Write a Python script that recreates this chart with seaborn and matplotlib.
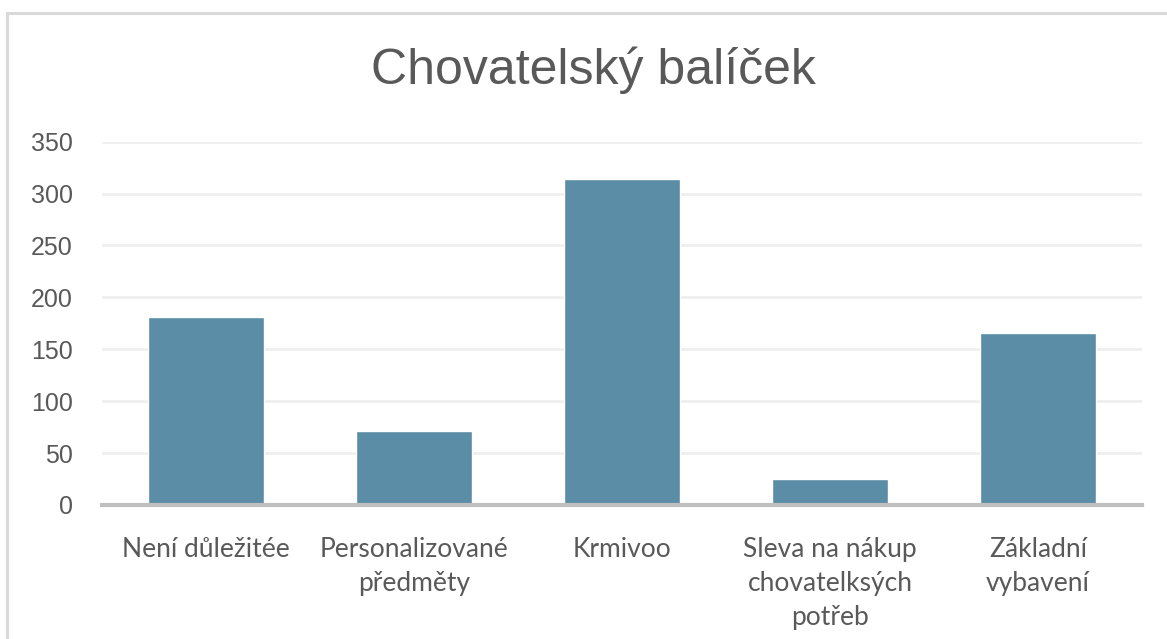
import matplotlib
matplotlib.use("Agg")
import matplotlib.pyplot as plt
from matplotlib.patches import Rectangle
import seaborn as sns
import pandas as pd

categories = [
    "Není důležitée",
    "Personalizované\npředměty",
    "Krmivoo",
    "Sleva na nákup\nchovatelksých\npotřeb",
    "Základní\nvybavení",
]
counts = [181, 71, 314, 25, 166]
y_ticks = [0, 50, 100, 150, 200, 250, 300, 350]
title = "Chovatelský balíček"

df = pd.DataFrame({"kategorie": categories, "pocet": counts})

sns.set_theme(style="white")
plt.rcParams["font.family"] = ["Liberation Sans", "DejaVu Sans"]

W, H = 1167, 639
fig = plt.figure(figsize=(W / 100, H / 100), dpi=100)
fig.patch.set_facecolor("white")

# outer chart frame (runs off the right and bottom edges)
fig.patches.append(Rectangle((7 / W, -0.05), 1.2, 1 - 13 / H + 0.05,
                             transform=fig.transFigure, fill=False,
                             edgecolor="#D9D9D9", linewidth=2.2, zorder=0))

ax = fig.add_axes([102 / W, 1 - 505 / H, (1142 - 102) / W, (505 - 141.7) / H])
sns.barplot(data=df, x="kategorie", y="pocet", color="#5B8DA6", width=0.557,
            saturation=1, ax=ax, zorder=3)

ax.set_ylim(0, 350)
ax.set_xlim(-0.5, len(categories) - 0.5)
ax.set_yticks(y_ticks)
ax.set_yticklabels([str(v) for v in y_ticks], fontsize=18, color="#595959")
ax.set_xticks(range(len(categories)))
ax.set_xticklabels(categories, fontsize=19, color="#595959",
                   family=["Lato", "DejaVu Sans"], linespacing=1.45, va="top")
ax.tick_params(axis="both", length=0)
ax.tick_params(axis="x", pad=23)
ax.tick_params(axis="y", pad=21)
ax.set_xlabel("")
ax.set_ylabel("")

ax.grid(axis="y", color="#EFEFEF", linewidth=2, zorder=0)
ax.set_axisbelow(True)
for s in ("left", "right", "top"):
    ax.spines[s].set_visible(False)
ax.spines["bottom"].set_color("#BFBFBF")
ax.spines["bottom"].set_linewidth(3)
ax.spines["bottom"].set_zorder(4)
ax.set_facecolor("white")

fig.text(593 / W, 1 - 70 / H, title, ha="center", va="center", fontsize=36,
         color="#595959")

fig.savefig("out.png", dpi=100)
